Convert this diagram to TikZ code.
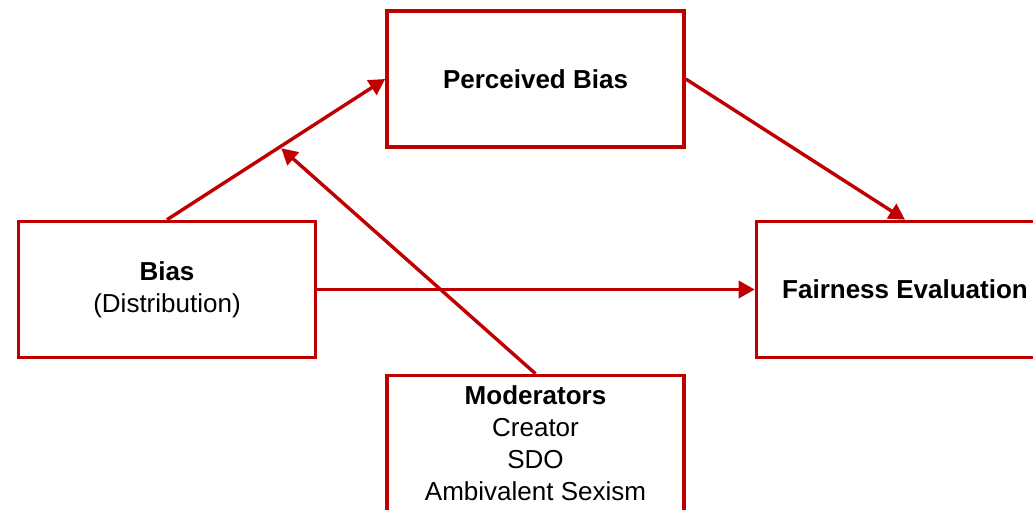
\documentclass[tikz,border=0pt]{standalone}
\usepackage{fontspec}
\setmainfont{Liberation Sans}
\usetikzlibrary{arrows.meta,calc}
\definecolor{boxred}{HTML}{C00000}
\begin{document}
\begin{tikzpicture}[x=1pt,y=-1pt,
  box/.style={draw=boxred,line width=3.6pt,minimum width=297pt,minimum height=136pt,
    inner sep=0pt,align=center,font=\fontsize{26}{32}\selectfont,fill=white},
  conn/.style={draw=boxred,line width=3.4pt,-{Triangle[length=16pt,width=17pt]}}]
\clip (0,0) rectangle (1033,510);
\fill[white] (0,0) rectangle (1033,510);
\node[box] (p) at (535.5,79) {\textbf{Perceived Bias}};
\node[box] (b) at (167,289.5) {\textbf{Bias}\\(Distribution)};
\node[box] (f) at (905,289.5) {\textbf{Fairness Evaluation}};
\node[box] (m) at (535.5,443.5) {\textbf{Moderators}\\Creator\\SDO\\Ambivalent Sexism};
\draw[conn] (b.north) -- (p.west);
\draw[conn] (p.east) -- (f.north);
\draw[conn] (b.east) -- (f.west);
\coordinate (mid) at ($(b.north)!0.517!(p.west)$);
\draw[conn,shorten >=2pt] (m.north) -- (mid);
\end{tikzpicture}
\end{document}
